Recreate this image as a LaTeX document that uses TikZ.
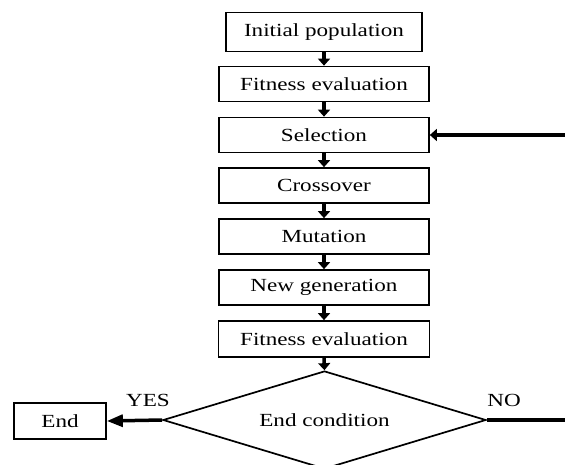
\documentclass[tikz,border=0pt]{standalone}
\usepackage{fontspec}
\setmainfont{Liberation Serif}[FakeStretch=1.25]
\usetikzlibrary{arrows.meta,shapes.geometric}

\begin{document}
\begin{tikzpicture}[x=1pt,y=-1pt,
  stepbox/.style={draw,line width=1.7pt,minimum width=210pt,minimum height=35pt,inner sep=0pt,font=\fontsize{18.5}{20}\selectfont},
  flow/.style={line width=3.5pt,-{Triangle[length=7pt,width=12pt]}},
  lbl/.style={font=\fontsize{18.5}{20}\selectfont}]
\clip (0,0) rectangle (565,464);
\node[stepbox,minimum width=196pt,minimum height=39pt] (init) at (324,32) {Initial population};
\node[stepbox] (fit1) at (324,84) {Fitness evaluation};
\node[stepbox] (sel) at (324,135) {Selection};
\node[stepbox] (cross) at (324,185.5) {Crossover};
\node[stepbox] (mut) at (324,236.5) {Mutation};
\node[stepbox] (newgen) at (324,287.5) {New generation};
\node[stepbox,minimum width=211pt,minimum height=36pt] (fit2) at (324,339) {Fitness evaluation};
\node[draw,diamond,line width=1.7pt,minimum width=323pt,minimum height=98pt,aspect=3.3,inner sep=0pt,font=\fontsize{18.5}{20}\selectfont] (cond) at (324.5,420) {End condition};
\node[stepbox,minimum width=92pt,minimum height=36pt] (end) at (60,421) {End};
\node[lbl] (yes) at (148,400) {YES};
\node[lbl] (nolbl) at (504,400) {NO};
\coordinate (loop) at (565,135);
\coordinate (no) at (565,420);
\draw[flow] (init.south) -- (fit1.north);
\draw[flow] (fit1.south) -- (sel.north);
\draw[flow] (sel.south) -- (cross.north);
\draw[flow] (cross.south) -- (mut.north);
\draw[flow] (mut.south) -- (newgen.north);
\draw[flow] (newgen.south) -- (fit2.north);
\draw[flow] (fit2.south) -- (cond.north);
\draw[flow] (loop) -- (sel.east);
\draw[line width=3.5pt] (cond.east) -- (no);
\draw[line width=3.5pt,-{Triangle[length=16pt,width=12pt]}] (cond.west) -- (end.east);
\end{tikzpicture}
\end{document}
